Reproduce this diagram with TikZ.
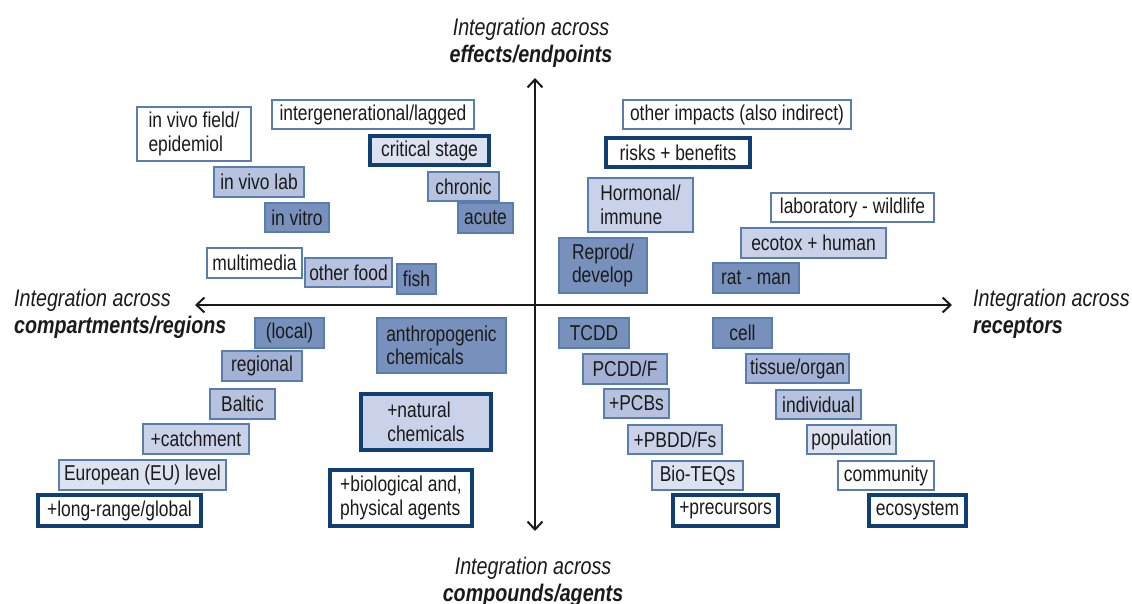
\documentclass[tikz,border=0pt]{standalone}
\usepackage{fontspec}
\setmainfont[FakeStretch=0.81]{Liberation Sans}
\newfontfamily\axisfont[FakeStretch=0.82]{Liberation Sans}
\usetikzlibrary{arrows.meta}

\definecolor{ink}{HTML}{1A1A1A}
\definecolor{edgethin}{HTML}{5A7DB0}
\definecolor{edgethick}{HTML}{0F3F73}
\definecolor{shadeA}{HTML}{DCE2F0}
\definecolor{shadeB}{HTML}{C9D2E8}
\definecolor{shadeC}{HTML}{B6C2DE}
\definecolor{shadeD}{HTML}{A3B2D4}
\definecolor{shadeE}{HTML}{7891BC}

\tikzset{
  box/.style={draw=edgethin, line width=1.3pt, inner sep=0pt, text=ink,
    font=\fontsize{21.5}{23.5}\selectfont, align=left},
  keybox/.style={draw=edgethick, line width=3.8pt},
  s0/.style={fill=white},
  s1/.style={fill=shadeA},
  s2/.style={fill=shadeB},
  s3/.style={fill=shadeC},
  s4/.style={fill=shadeD},
  s5/.style={fill=shadeE},
  axislabel/.style={font=\axisfont\fontsize{24}{26.5}\selectfont\itshape,
    text=ink, inner sep=0pt},
  axis/.style={line width=2pt, draw=ink,
    {Straight Barb[length=8pt,width=15pt]}-{Straight Barb[length=8pt,width=15pt]}}
}

% \bx{name}{style}{left}{top}{right}{bottom}{text}
\newcommand\bx[7]{%
  \node[box,#2,minimum width={(#5-#3)*1pt},minimum height={(#6-#4)*1pt}]
    (#1) at ({(#3+#5)/2},{(#4+#6)/2}) {#7};}

\begin{document}
\begin{tikzpicture}[x=1pt,y=-1pt]
\useasboundingbox (0,0) rectangle (1132,604);

% axes
\coordinate (north) at (535,78);
\coordinate (south) at (535,531);
\coordinate (west) at (195,305);
\coordinate (east) at (952,305);
\draw[axis] (south) -- (north);
\draw[axis] (west) -- (east);

% axis labels
\node[axislabel, align=center, anchor=north] (effects) at (531,18)
  {Integration across\\\textbf{effects/endpoints}};
\node[axislabel, align=center, anchor=north] (compounds) at (533,557)
  {Integration across\\\textbf{compounds/agents}};
\node[axislabel, align=left, anchor=north west] (compartments) at (14,289)
  {Integration across\\\textbf{compartments/regions}};
\node[axislabel, align=left, anchor=north west] (receptors) at (973,289)
  {Integration across\\\textbf{receptors}};

% effects / endpoints (upper left)
\bx{field}{s0}{137}{107}{251}{161}{in vivo field/\\epidemiol}
\bx{intergen}{s0}{272}{100}{474}{129}{intergenerational/lagged}
\bx{critical}{s1,keybox}{370}{136}{489}{165}{critical stage}
\bx{vivolab}{s3}{214}{167}{304}{197}{in vivo lab}
\bx{vitro}{s5}{265}{203}{329}{232}{in vitro}
\bx{chronic}{s3}{428}{172}{499}{201}{chronic}
\bx{acute}{s5}{458}{203}{513}{233}{acute}

% compartments (upper left, lower row)
\bx{multimedia}{s0}{207}{248}{302}{278}{multimedia}
\bx{otherfood}{s3}{305}{258}{392}{287}{other food}
\bx{fish}{s5}{397}{264}{436}{294}{fish}

% effects / endpoints (upper right)
\bx{impacts}{s0}{623}{100}{851}{129}{other impacts (also indirect)}
\bx{risks}{s0,keybox}{606}{138}{750}{167}{risks + benefits}
\bx{hormonal}{s2}{588}{178}{693}{232}{Hormonal/\\immune}
\bx{reprod}{s5}{559}{238}{647}{293}{Reprod/\\develop}

% receptors (upper right)
\bx{labwild}{s0}{771}{193}{934}{222}{laboratory - wildlife}
\bx{ecotox}{s2}{741}{228}{886}{258}{ecotox + human}
\bx{ratman}{s5}{713}{263}{799}{293}{rat - man}

% compartments / regions (lower left)
\bx{local}{s5}{255}{318}{324}{348}{(local)}
\bx{regional}{s4}{222}{351}{302}{381}{regional}
\bx{baltic}{s3}{210}{389}{275}{419}{Baltic}
\bx{catchment}{s2}{143}{424}{249}{454}{+catchment}
\bx{european}{s1}{59}{460}{226}{490}{European (EU) level}
\bx{global}{s0,keybox}{38}{495}{201}{526}{+long-range/global}

% compounds / agents (lower left)
\bx{anthropo}{s5}{377}{318}{506}{373}{anthropogenic\\chemicals}
\bx{natural}{s2,keybox}{361}{394}{491}{450}{+natural\\chemicals}
\bx{biological}{s0,keybox}{330}{470}{472}{526}{+biological and,\\physical agents}

% compounds / agents (lower right)
\bx{tcdd}{s5}{559}{318}{629}{348}{TCDD}
\bx{pcdd}{s4}{583}{354}{667}{384}{PCDD/F}
\bx{pcbs}{s3}{604}{389}{669}{418}{+PCBs}
\bx{pbdd}{s2}{628}{425}{722}{454}{+PBDD/Fs}
\bx{bioteq}{s1}{652}{461}{743}{490}{Bio-TEQs}
\bx{precursors}{s0,keybox}{673}{495}{778}{526}{+precursors}

% receptors (lower right)
\bx{cell}{s5}{713}{318}{772}{348}{cell}
\bx{tissue}{s4}{746}{354}{849}{383}{tissue/organ}
\bx{individual}{s3}{776}{390}{861}{419}{individual}
\bx{population}{s1}{807}{425}{896}{454}{population}
\bx{community}{s0}{838}{461}{934}{490}{community}
\bx{ecosystem}{s0,keybox}{869}{495}{966}{526}{ecosystem}
\end{tikzpicture}
\end{document}
